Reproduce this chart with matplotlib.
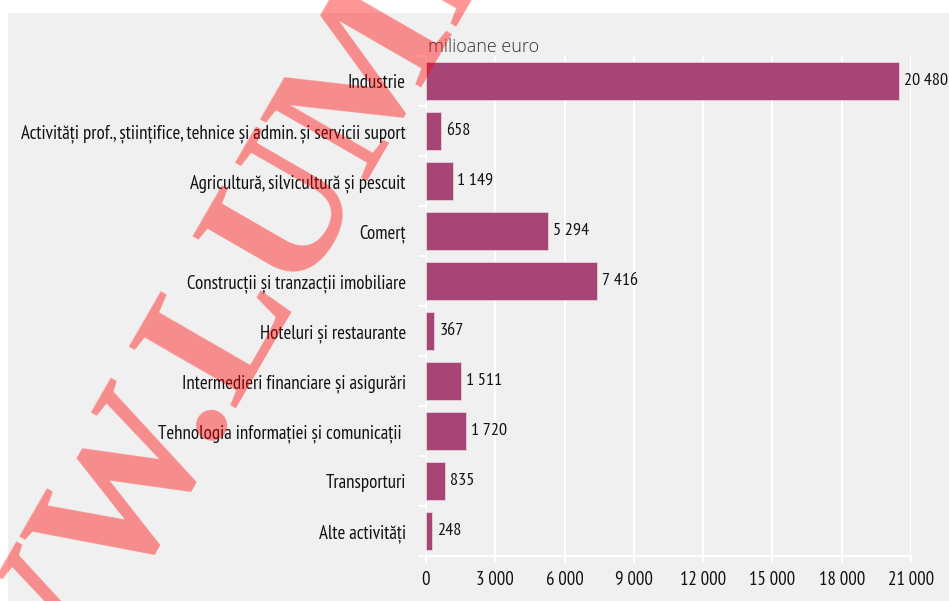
import matplotlib.pyplot as plt
from matplotlib.patches import Rectangle
from matplotlib.ticker import FixedLocator

# data (milioane euro)
categories = [
    'Industrie',
    'Activități prof., științifice, tehnice și admin. și servicii suport',
    'Agricultură, silvicultură și pescuit',
    'Comerț',
    'Construcții și tranzacții imobiliare',
    'Hoteluri și restaurante',
    'Intermedieri financiare și asigurări',
    'Tehnologia informației și comunicații ',
    'Transporturi',
    'Alte activități',
]
values = [20480, 658, 1149, 5294, 7416, 367, 1511, 1720, 835, 248]
x_ticks = [0, 3000, 6000, 9000, 12000, 15000, 18000, 21000]
unit_label = 'milioane euro'
watermark = 'WWW.LUMEA'

BAR = '#a84577'
BG = '#f0f0f0'
NARROW = ['PT Sans Narrow', 'Asap Condensed', 'Barlow Condensed', 'DejaVu Sans']
FS = 13.6


def fmt(v):
    # thin space as thousands separator
    return f'{v:,}'.replace(',', '\u2009')


fig = plt.figure(figsize=(9.49, 6.01), dpi=100)
fig.patch.set_facecolor('white')
# grey panel behind the chart
fig.patches.append(Rectangle((8 / 949, 0), 1, 1 - 13 / 601, transform=fig.transFigure,
                             facecolor=BG, edgecolor='none', zorder=-5))

ax = fig.add_axes([426 / 949, 45 / 601, 485 / 949, 500 / 601])
ax.set_facecolor('none')

ypos = list(range(len(categories)))
ax.barh(ypos, values, height=0.76, color=BAR, edgecolor='#e6d0dc', linewidth=0.6, zorder=3)
for y, v in zip(ypos, values):
    ax.annotate(fmt(v), (v, y), xytext=(3.5, 0), textcoords='offset points',
                va='center', ha='left', fontsize=13, family=NARROW, color='#111111',
                annotation_clip=False, zorder=4)

ax.set_xlim(0, 21000)
ax.set_ylim(len(categories) - 0.5, -0.5)
ax.set_xticks(x_ticks)
ax.set_xticklabels([fmt(t) for t in x_ticks], family=NARROW, fontsize=FS, color='#111111')
ax.set_yticks(ypos)
ax.set_yticklabels(categories, family=NARROW, fontsize=FS, color='#111111')
ax.tick_params(axis='y', which='major', length=0, pad=14.5)
ax.yaxis.set_minor_locator(FixedLocator([i - 0.5 for i in range(len(categories) + 1)]))
ax.tick_params(axis='y', which='minor', length=6, width=1.5, color='white')
ax.tick_params(axis='x', length=5, width=1.5, color='white', pad=6)

ax.grid(axis='x', color='white', linewidth=1.5, zorder=1)
for s in ['top', 'right', 'left']:
    ax.spines[s].set_visible(False)
ax.spines['bottom'].set_color('white')
ax.spines['bottom'].set_linewidth(1.5)

fig.text(428 / 949, 1 - 47 / 601, unit_label, fontsize=13, family=['Open Sans', 'DejaVu Sans'],
         fontweight='light', color='#333333', va='center', ha='left')

# diagonal watermark
fig.text(-64 / 949, 1 - 924 / 601, watermark, fontsize=136, family='Liberation Serif',
         fontweight='bold', color='#ff0000', alpha=0.42, rotation=60, rotation_mode='anchor',
         ha='left', va='baseline', zorder=10)

fig.savefig('out.png', dpi=100, facecolor=fig.get_facecolor())
